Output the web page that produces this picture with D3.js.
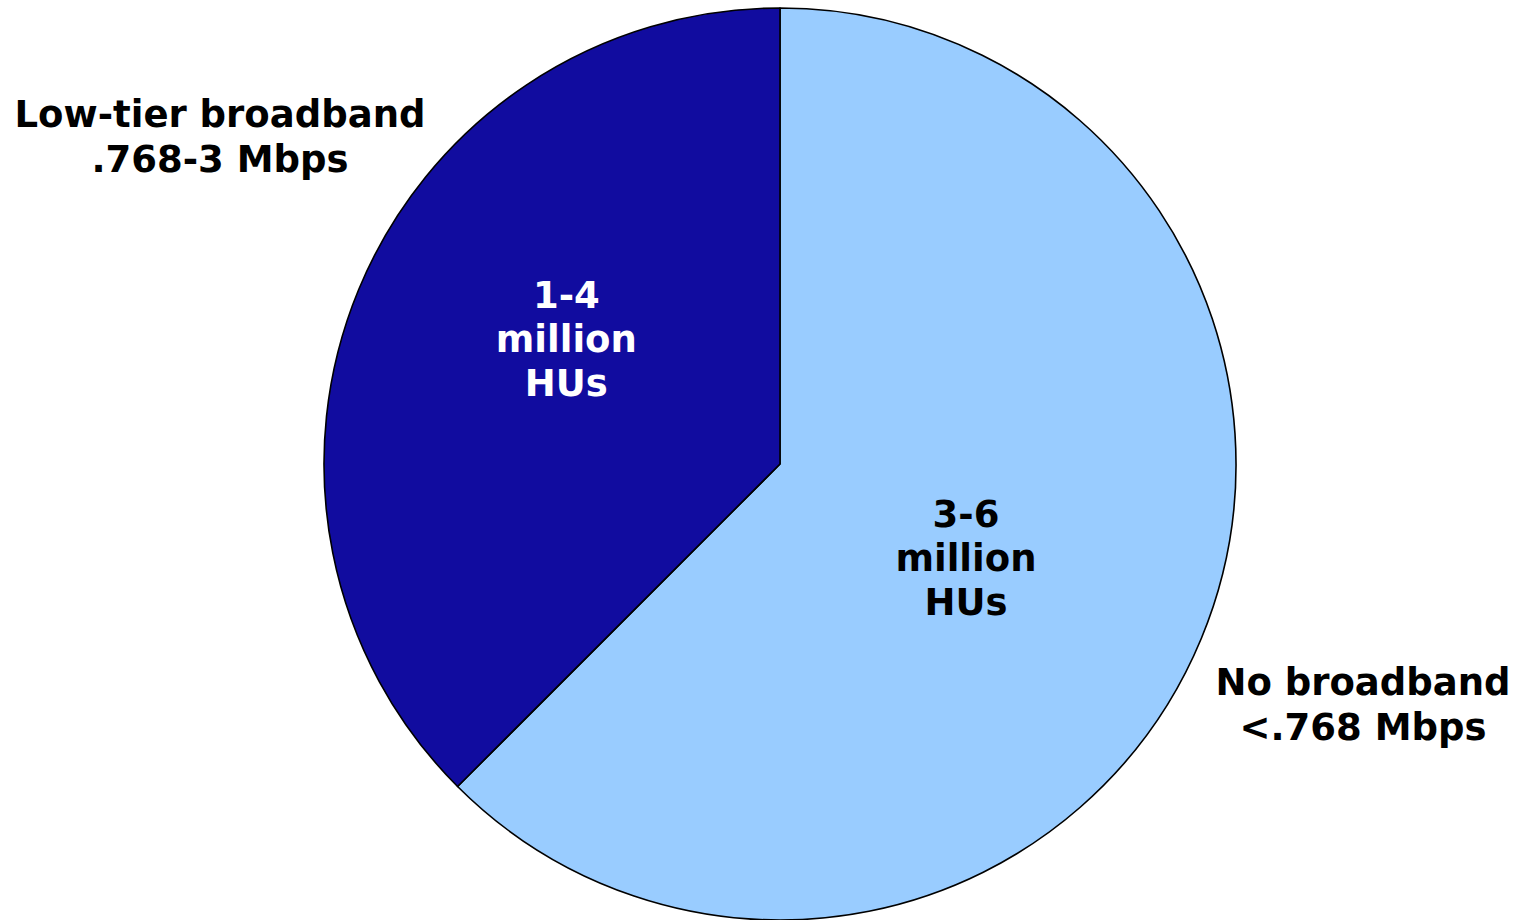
<!DOCTYPE html>
<html>
<head>
<meta charset="utf-8">
<script src="https://cdn.jsdelivr.net/npm/d3@7"></script>
<style>
  html, body { margin: 0; padding: 0; background: #fff; }
  svg { display: block; }
  text { font-family: "DejaVu Sans", Verdana, sans-serif; font-weight: bold; }
</style>
</head>
<body>
<svg id="chart" width="1516" height="920"></svg>
<script>
// Housing units by broadband availability (share of the pie)
const categories = ["No broadband", "Low-tier broadband"];
const shares = [62.5, 37.5];
const innerLabels = [["3-6", "million", "HUs"], ["1-4", "million", "HUs"]];
const outerLabels = [["No broadband", "<.768 Mbps"], ["Low-tier broadband", ".768-3 Mbps"]];
const colors = ["#99ccff", "#110c9f"];
const innerTextColors = ["#000000", "#ffffff"];

const W = 1516, H = 920;
const cx = 780, cy = 464, R = 456;
const fontSize = 37, lineH = 44;

const svg = d3.select("#chart");
const g = svg.append("g").attr("transform", `translate(${cx},${cy})`);

const pie = d3.pie().sort(null).value(d => d)(shares);
const arc = d3.arc().innerRadius(0).outerRadius(R);

g.selectAll("path.slice")
  .data(pie)
  .join("path")
  .attr("class", "slice")
  .attr("d", arc)
  .attr("fill", (d, i) => colors[i])
  .attr("stroke", "#000")
  .attr("stroke-width", 1.6)
  .attr("stroke-linejoin", "round");

// Value labels inside each slice, placed near the slice's mid angle
const labelRadius = [208, 248];
const labelShift = [4.1, 8.0]; // degrees past the mid angle
pie.forEach((d, i) => {
  const mid = (d.startAngle + d.endAngle) / 2 + labelShift[i] * Math.PI / 180;
  const x = Math.sin(mid) * labelRadius[i];
  const y = -Math.cos(mid) * labelRadius[i];
  const lines = innerLabels[i];
  const t = g.append("text")
    .attr("text-anchor", "middle")
    .attr("font-size", fontSize)
    .attr("fill", innerTextColors[i]);
  lines.forEach((s, k) => {
    t.append("tspan")
      .attr("x", x)
      .attr("y", y + (k - (lines.length - 1) / 2) * lineH + fontSize * 0.365)
      .text(s);
  });
});

// Category labels outside the pie
const outerPos = [[1363, 681], [220, 113]];
outerLabels.forEach((lines, i) => {
  const t = svg.append("text")
    .attr("text-anchor", "middle")
    .attr("font-size", fontSize)
    .attr("fill", "#000");
  lines.forEach((s, k) => {
    t.append("tspan")
      .attr("x", outerPos[i][0])
      .attr("y", outerPos[i][1] + k * 45 + fontSize * 0.365)
      .text(s);
  });
});
</script>
</body>
</html>
